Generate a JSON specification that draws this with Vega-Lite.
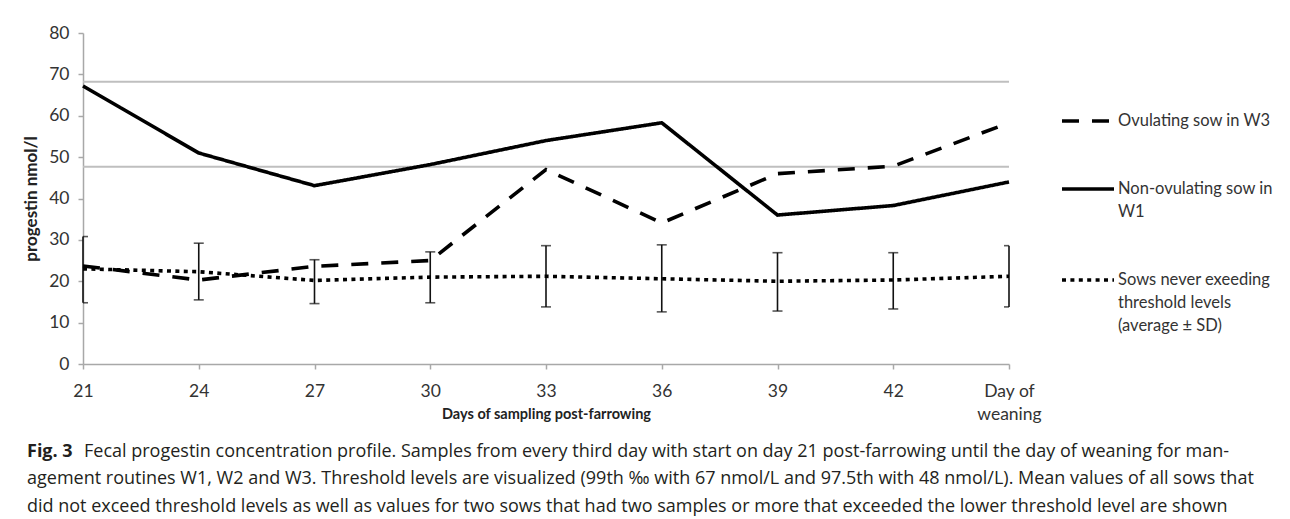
{
  "$schema": "https://vega.github.io/schema/vega-lite/v6.json",
  "width": 926,
  "height": 331,
  "autosize": {"type": "none"},
  "padding": {"left": 83, "top": 33, "right": 281, "bottom": 155},
  "background": "white",
  "title": {
    "text": "Fig. 3",
    "subtitle": [
      "\u200b\u2003\u2003\u2003\u2009Fecal progestin concentration profile. Samples from every third day with start on day 21 post-farrowing until the day of weaning for man-",
      "agement routines W1, W2 and W3. Threshold levels are visualized (99th ‰ with 67 nmol/L and 97.5th with 48 nmol/L). Mean values of all sows that",
      "did not exceed threshold levels as well as values for two sows that had two samples or more that exceeded the lower threshold level are shown"
    ],
    "orient": "bottom",
    "anchor": "start",
    "frame": "group",
    "dx": -56,
    "offset": 20,
    "font": "Open Sans",
    "fontSize": 18,
    "fontWeight": "bold",
    "color": "#231f20",
    "baseline": "top",
    "subtitleFont": "Open Sans",
    "subtitleFontSize": 18,
    "subtitleFontWeight": "normal",
    "subtitleColor": "#231f20",
    "subtitleLineHeight": 27.5,
    "subtitlePadding": -18
  },
  "datasets": {
    "series": [
      {"day": "21", "series": "Ovulating sow in W3", "value": 23.7},
      {"day": "24", "series": "Ovulating sow in W3", "value": 20.3},
      {"day": "27", "series": "Ovulating sow in W3", "value": 23.6},
      {"day": "30", "series": "Ovulating sow in W3", "value": 25.0},
      {"day": "33", "series": "Ovulating sow in W3", "value": 47.0},
      {"day": "36", "series": "Ovulating sow in W3", "value": 34.1},
      {"day": "39", "series": "Ovulating sow in W3", "value": 46.0},
      {"day": "42", "series": "Ovulating sow in W3", "value": 47.8},
      {"day": "Day of weaning", "series": "Ovulating sow in W3", "value": 58.3},
      {"day": "21", "series": "Non-ovulating sow in W1", "value": 67.2},
      {"day": "24", "series": "Non-ovulating sow in W1", "value": 51.0},
      {"day": "27", "series": "Non-ovulating sow in W1", "value": 43.1},
      {"day": "30", "series": "Non-ovulating sow in W1", "value": 48.2},
      {"day": "33", "series": "Non-ovulating sow in W1", "value": 54.0},
      {"day": "36", "series": "Non-ovulating sow in W1", "value": 58.3},
      {"day": "39", "series": "Non-ovulating sow in W1", "value": 36.0},
      {"day": "42", "series": "Non-ovulating sow in W1", "value": 38.3},
      {"day": "Day of weaning", "series": "Non-ovulating sow in W1", "value": 44.0},
      {"day": "21", "series": "Sows never exeeding threshold levels (average ± SD)", "value": 23.0},
      {"day": "24", "series": "Sows never exeeding threshold levels (average ± SD)", "value": 22.3},
      {"day": "27", "series": "Sows never exeeding threshold levels (average ± SD)", "value": 20.2},
      {"day": "30", "series": "Sows never exeeding threshold levels (average ± SD)", "value": 21.0},
      {"day": "33", "series": "Sows never exeeding threshold levels (average ± SD)", "value": 21.2},
      {"day": "36", "series": "Sows never exeeding threshold levels (average ± SD)", "value": 20.6},
      {"day": "39", "series": "Sows never exeeding threshold levels (average ± SD)", "value": 20.0},
      {"day": "42", "series": "Sows never exeeding threshold levels (average ± SD)", "value": 20.3},
      {"day": "Day of weaning", "series": "Sows never exeeding threshold levels (average ± SD)", "value": 21.2}
    ],
    "sd": [
      {"day": "21", "lo": 14.8, "hi": 30.8},
      {"day": "24", "lo": 15.5, "hi": 29.2},
      {"day": "27", "lo": 14.6, "hi": 25.2},
      {"day": "30", "lo": 14.8, "hi": 27.1},
      {"day": "33", "lo": 13.8, "hi": 28.6},
      {"day": "36", "lo": 12.6, "hi": 28.8},
      {"day": "39", "lo": 12.8, "hi": 26.9},
      {"day": "42", "lo": 13.3, "hi": 26.9},
      {"day": "Day of weaning", "lo": 13.8, "hi": 28.6}
    ],
    "thresholds": [
      {"level": "99th", "value": 68.2},
      {"level": "97.5th", "value": 47.7}
    ]
  },
  "layer": [
    {
      "data": {"name": "thresholds"},
      "mark": {"type": "rule", "color": "#bfbfbf", "strokeWidth": 2},
      "encoding": {
        "y": {"field": "value", "type": "quantitative", "title": "progestin nmol/l", "scale": {"domain": [0, 80], "nice": false}}
      }
    },
    {
      "data": {"name": "sd"},
      "mark": {"type": "rule", "color": "#111", "strokeWidth": 1.6},
      "encoding": {
        "x": {"field": "day", "type": "ordinal", "title": "Days of sampling post-farrowing", "sort": null, "scale": {"type": "point", "padding": 0}},
        "y": {"field": "lo", "type": "quantitative", "title": "progestin nmol/l"},
        "y2": {"field": "hi"}
      }
    },
    {
      "data": {"name": "sd"},
      "mark": {"type": "tick", "color": "#111", "thickness": 1.6, "size": 10, "orient": "horizontal", "clip": true},
      "encoding": {
        "x": {"field": "day", "type": "ordinal", "title": "Days of sampling post-farrowing", "sort": null},
        "y": {"field": "lo", "type": "quantitative", "title": "progestin nmol/l"}
      }
    },
    {
      "data": {"name": "sd"},
      "mark": {"type": "tick", "color": "#111", "thickness": 1.6, "size": 10, "orient": "horizontal", "clip": true},
      "encoding": {
        "x": {"field": "day", "type": "ordinal", "title": "Days of sampling post-farrowing", "sort": null},
        "y": {"field": "hi", "type": "quantitative", "title": "progestin nmol/l"}
      }
    },
    {
      "data": {"name": "series"},
      "mark": {"type": "line", "color": "black", "strokeWidth": 3.6, "strokeCap": "butt", "strokeJoin": "miter"},
      "encoding": {
        "x": {"field": "day", "type": "ordinal", "title": "Days of sampling post-farrowing", "sort": null},
        "y": {"field": "value", "type": "quantitative", "title": "progestin nmol/l"},
        "strokeDash": {
          "field": "series",
          "type": "nominal",
          "scale": {
            "domain": ["Ovulating sow in W3", "Non-ovulating sow in W1", "Sows never exeeding threshold levels (average ± SD)"],
            "range": [[17, 13], [1, 0], [4, 4.4]]
          },
          "legend": {
            "title": null,
            "orient": "none",
            "legendX": 977,
            "legendY": 60,
            "direction": "vertical",
            "symbolType": "stroke",
            "symbolSize": 2704,
            "symbolStrokeWidth": 3.6,
            "symbolStrokeColor": "black",
            "labelFont": "Lato",
            "labelFontSize": 16.5,
            "labelColor": "#333333",
            "labelLimit": 300,
            "labelOffset": 2,
            "rowPadding": 31,
            "padding": 0,
            "labelExpr": "datum.label == 'Non-ovulating sow in W1' ? ['Non-ovulating sow in', 'W1'] : datum.label == 'Ovulating sow in W3' ? datum.label : ['Sows never exeeding', 'threshold levels', '(average ± SD)']",
            "encode": {"labels": {"update": {"lineHeight": {"value": 23}}}}
          }
        }
      }
    }
  ],
  "resolve": {"scale": {"x": "shared", "y": "shared"}},
  "config": {
    "view": {"stroke": null},
    "axis": {
      "grid": false,
      "domainColor": "#a8a8a8",
      "domainWidth": 1.5,
      "tickColor": "#a8a8a8",
      "tickWidth": 1.5,
      "tickSize": 5,
      "labelFont": "Lato",
      "labelFontSize": 17.5,
      "labelColor": "#333333",
      "titleFont": "Lato",
      "titleFontWeight": "bold",
      "titleColor": "#222222"
    },
    "axisX": {
      "labelAngle": 0,
      "labelPadding": 13,
      "labelLineHeight": 23,
      "labelExpr": "datum.value == 'Day of weaning' ? ['Day of', 'weaning'] : datum.value",
      "titleFontSize": 14.5,
      "titleBaseline": "middle",
      "titleY": 50
    },
    "axisY": {
      "values": [0, 10, 20, 30, 40, 50, 60, 70, 80],
      "labelPadding": 9,
      "titleFontSize": 17,
      "titleBaseline": "middle",
      "titleX": -52
    }
  }
}
